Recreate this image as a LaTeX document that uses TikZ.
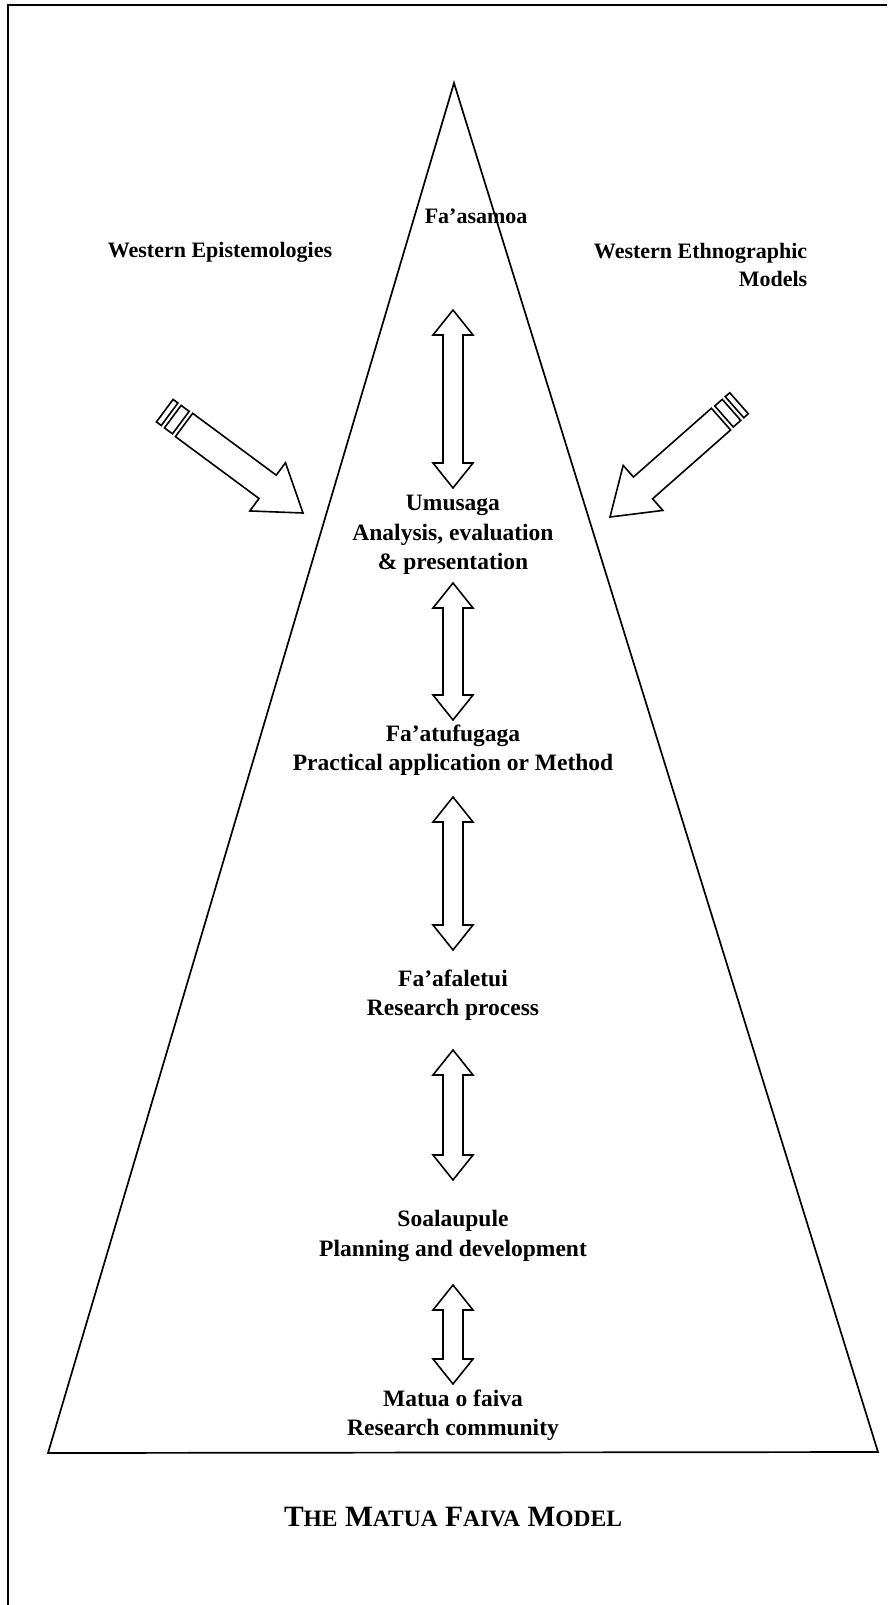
\documentclass[tikz,border=0pt]{standalone}
\usepackage{fontspec}
\setmainfont{Liberation Serif}
\newcommand\dblarr[3]{%
  \draw[arr] (#1-10,#2+25) -- (#1-20,#2+25) -- (#1,#2) -- (#1+20,#2+25) -- (#1+10,#2+25)
    -- (#1+10,#3-25) -- (#1+20,#3-25) -- (#1,#3) -- (#1-20,#3-25) -- (#1-10,#3-25) -- cycle;}
\newcommand\blockarr{%
  \draw[arr] (0,0) -- (-44,30) -- (-44,14.5) -- (-148,14.5) -- (-148,-14.5) -- (-44,-14.5) -- (-44,-30) -- cycle;
  \draw[arr] (-152,14) rectangle (-162,-14);
  \draw[arr] (-166,14) rectangle (-172,-14);}
\begin{document}
\begin{tikzpicture}[x=1pt,y=-1pt,line width=1.5pt,
  lbl/.style={font=\fontsize{23.5}{29.5}\selectfont\bfseries,align=center,inner sep=0pt},
  toplbl/.style={font=\fontsize{22}{27.5}\selectfont\bfseries,align=center,inner sep=0pt},
  arr/.style={line width=1.6pt,line join=miter,fill=white}]
\useasboundingbox (0,0) rectangle (887,1605);
% frame
\draw[line width=1.8pt] (887,5) -- (8,5) -- (8,1605);
% triangle
\coordinate (apex) at (454,83);
\coordinate (bl) at (48,1453);
\coordinate (br) at (878,1452);
\draw[line width=1.7pt,line join=miter] (apex) -- (br) -- (bl) -- cycle;
% labels
\node[toplbl,anchor=west] (fa) at (424,216) {Fa’asamoa};
\node[toplbl] (we) at (220,252) {Western Epistemologies};
\node[toplbl,align=right,anchor=east] (wm) at (808,265) {Western Ethnographic\\Models};
\node[lbl] (um) at (453,535) {Umusaga\\Analysis, evaluation\\\& presentation};
\node[lbl] (ft) at (453,750) {Fa’atufugaga\\Practical application or Method};
\node[lbl] (ff) at (453,995) {Fa’afaletui\\Research process};
\node[lbl] (so) at (453,1236) {Soalaupule\\Planning and development};
\node[lbl] (mt) at (453,1415) {Matua o faiva\\Research community};
% vertical double arrows
\dblarr{453}{310}{488}
\dblarr{453}{583}{720}
\dblarr{453}{797}{950}
\dblarr{453}{1050}{1180}
\dblarr{453}{1285}{1384}
% diagonal arrows
\begin{scope}[shift={(303,513)},rotate=-36.5]\blockarr\end{scope}
\begin{scope}[shift={(610,517)},rotate=221.4]\blockarr\end{scope}
% title
\node[font=\fontsize{29.5}{34}\selectfont\bfseries,inner sep=0pt] (title) at (453,1517)
  {T{\fontsize{23.5}{30}\selectfont HE} M{\fontsize{23.5}{30}\selectfont ATUA} F{\fontsize{23.5}{30}\selectfont AIVA} M{\fontsize{23.5}{30}\selectfont ODEL}};
\end{tikzpicture}
\end{document}
